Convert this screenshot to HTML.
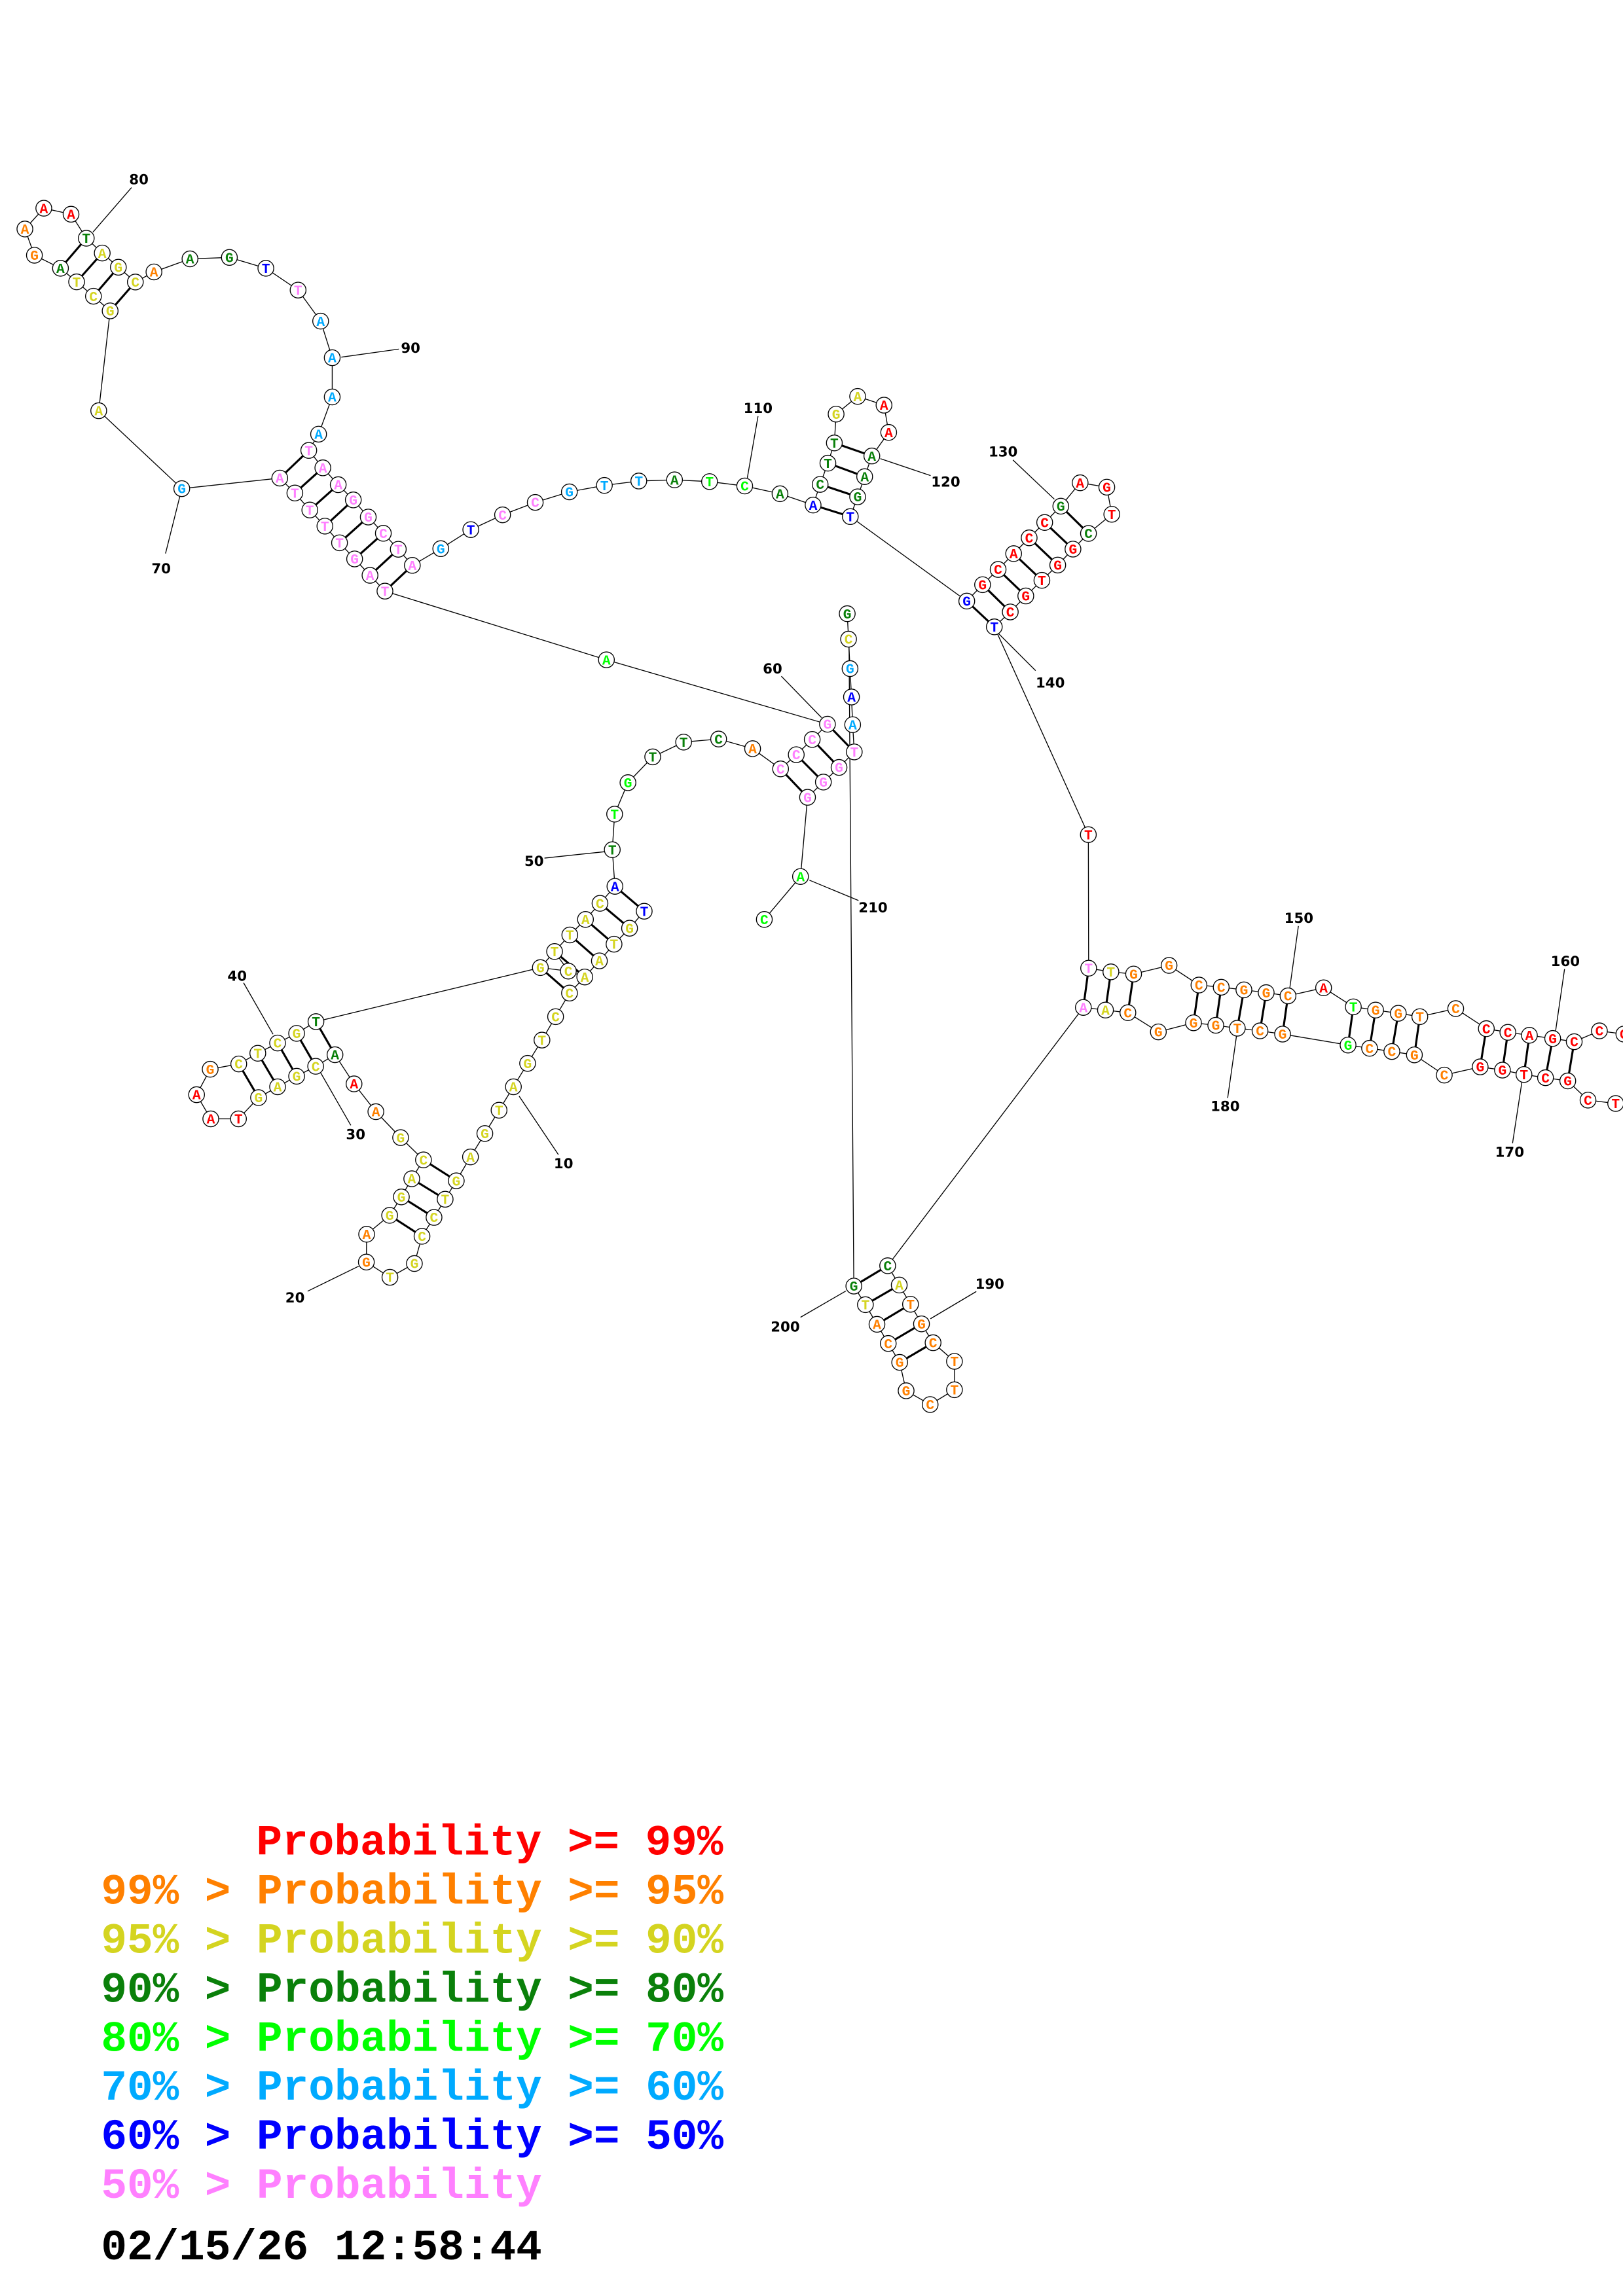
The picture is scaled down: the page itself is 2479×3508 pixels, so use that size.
<!DOCTYPE html>
<html><head><meta charset="utf-8">
<style>
html,body{margin:0;padding:0;background:#fff;}
svg{display:block;}
circle{fill:#fff;stroke:#000;stroke-width:.6;}
.bb{fill:none;stroke:#000;stroke-width:.6;}
.pr{stroke:#000;stroke-width:1.4;}
.ld{stroke:#000;stroke-width:.6;}
text.n{font-family:"Liberation Mono",monospace;font-weight:bold;font-size:9.5px;text-anchor:middle;}
text.lb{font-family:"DejaVu Sans","Liberation Sans",sans-serif;font-weight:bold;font-size:9.5px;text-anchor:middle;fill:#000;}
text.lg{font-family:"Liberation Mono",monospace;font-weight:bold;font-size:29.5px;white-space:pre;}
.R{fill:#ff0000}.O{fill:#ff8000}.Y{fill:#d4d420}.D{fill:#0a800a}.L{fill:#00ff00}.C{fill:#00aaff}.B{fill:#0000ff}.P{fill:#ff80ff}.K{fill:#000}
</style></head><body>
<svg width="2479" height="3508" viewBox="0 0 1108 1568" preserveAspectRatio="none" xmlns="http://www.w3.org/2000/svg">
<rect width="1108" height="1568" fill="#fff"/>
<polyline class="bb" points="124.1,333.7 67.4,280.5 75.2,212.3 63.8,202.3 52.3,192.5 41.3,183.2 23.5,174.3 17.0,156.4 29.9,142.2 48.5,146.3 58.9,162.7 69.8,172.8 80.8,182.5 92.4,192.6 105.1,185.7 129.7,176.8 156.6,175.8 181.5,183.2 203.5,198.1 218.9,219.3 226.8,244.3 226.8,271.1 217.5,296.5 210.8,307.6 220.4,319.5 230.9,331.0 241.2,341.4 251.4,353.1 261.7,364.2 271.9,375.1 281.5,386.1 300.9,374.7 321.4,361.7 343.1,351.6 365.4,343.1 388.7,335.9 412.6,331.5 436.1,328.5 460.5,327.7 484.4,328.9 508.4,331.9 532.5,337.2 555.1,344.9 559.9,330.8 565.2,316.3 569.6,302.5 570.8,282.8 585.5,270.7 603.5,276.7 606.7,295.3 595.2,311.4 590.3,325.5 585.5,339.3 580.5,352.8 660.0,410.5 670.8,399.3 681.4,388.9 692.0,378.1 702.6,367.3 713.2,356.8 724.2,345.7 737.4,329.7 755.6,332.7 759.0,351.2 743.1,364.3 732.5,375.0 722.1,385.9 711.3,396.3 700.3,407.0 689.7,417.9 678.8,428.1 743,570 743.2,661.2 758.4,663.7 773.9,665.2 798.1,659.3 818.5,672.7 833.7,674.2 849.2,676.0 864.4,677.9 879.3,680.1 903.6,674.6 923.9,687.6 939.1,689.8 954.6,692.0 969.3,694.3 993.8,688.8 1014.7,702.5 1029.4,705.0 1044.1,707.0 1060.0,709.2 1074.7,711.4 1091.9,704.0 1108.6,706.2 1125,710"/>
<polyline class="bb" points="1125,756 1103.0,753.6 1084.1,751.3 1070.3,738.2 1055.1,736.0 1040.4,733.8 1025.7,730.8 1010.5,728.6 986.0,734.2 965.6,720.4 950.2,718.1 935.0,715.9 920.3,713.7 875.6,706.2 860.2,704.0 844.7,702.2 830.0,700.2 814.8,698.5 790.8,704.7 770.0,691.6 754.7,689.8 739.6,688.0 606.0,864.4 613.9,877.6 621.6,890.7 629.1,904.1 637.0,917.0 651.6,929.7 651.6,949.1 635.0,959.2 618.6,949.8 614.2,930.4 606.4,917.5 598.7,904.4 590.8,891.0 582.9,878.3 579.6,436.5"/>
<polyline class="bb" points="578.4,419.1 579.3,436.5 580.3,456.6 581.3,476.0 582.1,494.9 583.2,513.5 572.8,524.1 562.1,534.1 551.3,544.5 546.5,598.6 521.8,627.9"/>
<polyline class="bb" points="124.1,333.7 191.0,326.5 201.3,336.7 211.5,348.3 221.8,359.3 231.8,370.7 242.1,381.7 252.6,392.9 262.8,403.7 414.0,450.6 564.9,494.6 554.5,505.0 543.6,515.4 532.9,525.1 513.8,511.3 490.6,504.7 466.7,506.8 445.6,516.9 428.7,534.5 419.6,556.0 418.0,580.3 419.8,605.3 409.6,616.9 399.7,627.9 389.0,638.5 378.6,649.8 368.9,660.8 215.7,697.7 202.5,705.7 189.5,712.3 176.0,719.3 163.0,726.6 143.5,730.2 134.2,747.6 143.9,764.1 162.8,764.1 176.5,749.6 189.5,742.2 202.5,735.0 215.5,728.2 228.7,720.3 241.7,740.2 256.6,759.2 273.5,776.9 289.1,792.1 281.1,805.0 274.0,817.4 266.0,830.0 250.3,842.9 250.1,861.9 266.2,872.3 282.9,862.9 288.1,844.3 296.3,831.4 303.9,819.0 311.5,806.4 321.2,790.1 331.0,774.1 340.7,758.2 350.5,742.2 360.2,726.2 370.0,710.3 379.3,694.3 388.8,678.2 399.2,667.2 409.2,656.2 419.2,644.8 429.8,633.9 439.8,622.3 419.8,605.3"/>
<polyline class="bb" points="368.9,660.8 388.0,663.2 399.2,667.2"/>
<line class="bb" x1="378.6" y1="649.8" x2="388.0" y2="663.2"/>
<g class="pr">
<line x1="58.9" y1="162.7" x2="41.3" y2="183.2"/><line x1="69.8" y1="172.8" x2="52.3" y2="192.5"/><line x1="80.8" y1="182.5" x2="63.8" y2="202.3"/><line x1="92.4" y1="192.6" x2="75.2" y2="212.3"/>
<line x1="210.8" y1="307.6" x2="191.0" y2="326.5"/><line x1="220.4" y1="319.5" x2="201.3" y2="336.7"/><line x1="230.9" y1="331.0" x2="211.5" y2="348.3"/><line x1="241.2" y1="341.4" x2="221.8" y2="359.3"/><line x1="251.4" y1="353.1" x2="231.8" y2="370.7"/><line x1="261.7" y1="364.2" x2="242.1" y2="381.7"/><line x1="271.9" y1="375.1" x2="252.6" y2="392.9"/><line x1="281.5" y1="386.1" x2="262.8" y2="403.7"/>
<line x1="555.1" y1="344.9" x2="580.5" y2="352.8"/><line x1="559.9" y1="330.8" x2="585.5" y2="339.3"/><line x1="565.2" y1="316.3" x2="590.3" y2="325.5"/><line x1="569.6" y1="302.5" x2="595.2" y2="311.4"/>
<line x1="660.0" y1="410.5" x2="678.8" y2="428.1"/><line x1="670.8" y1="399.3" x2="689.7" y2="417.9"/><line x1="681.4" y1="388.9" x2="700.3" y2="407.0"/><line x1="692.0" y1="378.1" x2="711.3" y2="396.3"/><line x1="702.6" y1="367.3" x2="722.1" y2="385.9"/><line x1="713.2" y1="356.8" x2="732.5" y2="375.0"/><line x1="724.2" y1="345.7" x2="743.1" y2="364.3"/>
<line x1="743.2" y1="661.2" x2="739.6" y2="688.0"/><line x1="758.4" y1="663.7" x2="754.7" y2="689.8"/><line x1="773.9" y1="665.2" x2="770.0" y2="691.6"/><line x1="818.5" y1="672.7" x2="814.8" y2="698.5"/><line x1="833.7" y1="674.2" x2="830.0" y2="700.2"/><line x1="849.2" y1="676.0" x2="844.7" y2="702.2"/><line x1="864.4" y1="677.9" x2="860.2" y2="704.0"/><line x1="879.3" y1="680.1" x2="875.6" y2="706.2"/>
<line x1="923.9" y1="687.6" x2="920.3" y2="713.7"/><line x1="939.1" y1="689.8" x2="935.0" y2="715.9"/><line x1="954.6" y1="692.0" x2="950.2" y2="718.1"/><line x1="969.3" y1="694.3" x2="965.6" y2="720.4"/>
<line x1="1014.7" y1="702.5" x2="1010.5" y2="728.6"/><line x1="1029.4" y1="705.0" x2="1025.7" y2="730.8"/><line x1="1044.1" y1="707.0" x2="1040.4" y2="733.8"/><line x1="1060.0" y1="709.2" x2="1055.1" y2="736.0"/><line x1="1074.7" y1="711.4" x2="1070.3" y2="738.2"/>
<line x1="606.0" y1="864.4" x2="582.9" y2="878.3"/><line x1="613.9" y1="877.6" x2="590.8" y2="891.0"/><line x1="621.6" y1="890.7" x2="598.7" y2="904.4"/><line x1="629.1" y1="904.1" x2="606.4" y2="917.5"/><line x1="637.0" y1="917.0" x2="614.2" y2="930.4"/>
<line x1="564.9" y1="494.6" x2="583.2" y2="513.5"/><line x1="554.5" y1="505.0" x2="572.8" y2="524.1"/><line x1="543.6" y1="515.4" x2="562.1" y2="534.1"/><line x1="532.9" y1="525.1" x2="551.3" y2="544.5"/>
<line x1="419.8" y1="605.3" x2="439.8" y2="622.3"/><line x1="409.6" y1="616.9" x2="429.8" y2="633.9"/><line x1="399.7" y1="627.9" x2="419.2" y2="644.8"/><line x1="389.0" y1="638.5" x2="409.2" y2="656.2"/><line x1="378.6" y1="649.8" x2="399.2" y2="667.2"/><line x1="368.9" y1="660.8" x2="388.8" y2="678.2"/>
<line x1="215.7" y1="697.7" x2="228.7" y2="720.3"/><line x1="202.5" y1="705.7" x2="215.5" y2="728.2"/><line x1="189.5" y1="712.3" x2="202.5" y2="735.0"/><line x1="176.0" y1="719.3" x2="189.5" y2="742.2"/><line x1="163.0" y1="726.6" x2="176.5" y2="749.6"/>
<line x1="289.1" y1="792.1" x2="311.5" y2="806.4"/><line x1="281.1" y1="805.0" x2="303.9" y2="819.0"/><line x1="274.0" y1="817.4" x2="296.3" y2="831.4"/><line x1="266.0" y1="830.0" x2="288.1" y2="844.3"/>
</g>
<g class="ld">
<line x1="89.8" y1="128.1" x2="63.4" y2="158.6"/><line x1="272.3" y1="238.4" x2="233.0" y2="243.9"/><line x1="124.1" y1="333.7" x2="113" y2="378"/>
<line x1="517.5" y1="284.2" x2="510.2" y2="326.3"/><line x1="601.0" y1="313.2" x2="635.3" y2="324.8"/><line x1="691.5" y1="314.1" x2="719.8" y2="340.9"/><line x1="681" y1="432" x2="707" y2="458"/>
<line x1="533.4" y1="461.8" x2="560.9" y2="490.1"/><line x1="552.6" y1="601.1" x2="586.1" y2="615.0"/><line x1="371.7" y1="586.0" x2="413.3" y2="581.6"/>
<line x1="166.3" y1="671.2" x2="186.4" y2="706.3"/><line x1="218.9" y1="732.6" x2="239.5" y2="768.5"/><line x1="354.4" y1="748.6" x2="381.2" y2="788.5"/><line x1="210.0" y1="881.8" x2="244.9" y2="864.7"/>
<line x1="886.4" y1="632.4" x2="880.5" y2="674.9"/><line x1="1068.1" y1="661.8" x2="1062.0" y2="704.0"/><line x1="838.1" y1="749.9" x2="844.2" y2="707.0"/><line x1="1032.6" y1="780.7" x2="1039.2" y2="737.5"/>
<line x1="666.5" y1="882.0" x2="635.2" y2="900.6"/><line x1="546.5" y1="899.6" x2="577.4" y2="881.7"/>
</g>
<g>
<text class="lb" x="94.8" y="125.8">80</text><text class="lb" x="280.3" y="241">90</text><text class="lb" x="110" y="391.5">70</text>
<text class="lb" x="517.5" y="282">110</text><text class="lb" x="645.6" y="332.4">120</text><text class="lb" x="684.8" y="311.8">130</text><text class="lb" x="717" y="469.5">140</text>
<text class="lb" x="527.4" y="460">60</text><text class="lb" x="596" y="623.2">210</text><text class="lb" x="364.6" y="591.4">50</text>
<text class="lb" x="161.9" y="669.8">40</text><text class="lb" x="242.8" y="777.9">30</text><text class="lb" x="384.7" y="797.9">10</text><text class="lb" x="201.4" y="889.6">20</text>
<text class="lb" x="886.7" y="630.3">150</text><text class="lb" x="1068.6" y="659.7">160</text><text class="lb" x="836.4" y="758.8">180</text><text class="lb" x="1030.6" y="790.1">170</text>
<text class="lb" x="675.7" y="880.2">190</text><text class="lb" x="536.1" y="909.3">200</text>
</g>
<g id="nodes">
<circle cx="29.9" cy="142.2" r="5.4"/><text class="n R" x="29.9" y="145.4">A</text>
<circle cx="48.5" cy="146.3" r="5.4"/><text class="n R" x="48.5" y="149.5">A</text>
<circle cx="17.0" cy="156.4" r="5.4"/><text class="n O" x="17.0" y="159.6">A</text>
<circle cx="58.9" cy="162.7" r="5.4"/><text class="n D" x="58.9" y="165.9">T</text>
<circle cx="23.5" cy="174.3" r="5.4"/><text class="n O" x="23.5" y="177.5">G</text>
<circle cx="69.8" cy="172.8" r="5.4"/><text class="n Y" x="69.8" y="176.0">A</text>
<circle cx="41.3" cy="183.2" r="5.4"/><text class="n D" x="41.3" y="186.4">A</text>
<circle cx="80.8" cy="182.5" r="5.4"/><text class="n Y" x="80.8" y="185.7">G</text>
<circle cx="52.3" cy="192.5" r="5.4"/><text class="n Y" x="52.3" y="195.7">T</text>
<circle cx="92.4" cy="192.6" r="5.4"/><text class="n Y" x="92.4" y="195.8">C</text>
<circle cx="63.8" cy="202.3" r="5.4"/><text class="n Y" x="63.8" y="205.5">C</text>
<circle cx="75.2" cy="212.3" r="5.4"/><text class="n Y" x="75.2" y="215.5">G</text>
<circle cx="105.1" cy="185.7" r="5.4"/><text class="n O" x="105.1" y="188.9">A</text>
<circle cx="129.7" cy="176.8" r="5.4"/><text class="n D" x="129.7" y="180.0">A</text>
<circle cx="156.6" cy="175.8" r="5.4"/><text class="n D" x="156.6" y="179.0">G</text>
<circle cx="181.5" cy="183.2" r="5.4"/><text class="n B" x="181.5" y="186.4">T</text>
<circle cx="203.5" cy="198.1" r="5.4"/><text class="n P" x="203.5" y="201.3">T</text>
<circle cx="218.9" cy="219.3" r="5.4"/><text class="n C" x="218.9" y="222.5">A</text>
<circle cx="226.8" cy="244.3" r="5.4"/><text class="n C" x="226.8" y="247.5">A</text>
<circle cx="226.8" cy="271.1" r="5.4"/><text class="n C" x="226.8" y="274.3">A</text>
<circle cx="217.5" cy="296.5" r="5.4"/><text class="n C" x="217.5" y="299.7">A</text>
<circle cx="67.4" cy="280.5" r="5.4"/><text class="n Y" x="67.4" y="283.7">A</text>
<circle cx="124.1" cy="333.7" r="5.4"/><text class="n C" x="124.1" y="336.9">G</text>
<circle cx="210.8" cy="307.6" r="5.4"/><text class="n P" x="210.8" y="310.8">T</text>
<circle cx="220.4" cy="319.5" r="5.4"/><text class="n P" x="220.4" y="322.7">A</text>
<circle cx="230.9" cy="331.0" r="5.4"/><text class="n P" x="230.9" y="334.2">A</text>
<circle cx="241.2" cy="341.4" r="5.4"/><text class="n P" x="241.2" y="344.6">G</text>
<circle cx="251.4" cy="353.1" r="5.4"/><text class="n P" x="251.4" y="356.3">G</text>
<circle cx="261.7" cy="364.2" r="5.4"/><text class="n P" x="261.7" y="367.4">C</text>
<circle cx="271.9" cy="375.1" r="5.4"/><text class="n P" x="271.9" y="378.3">T</text>
<circle cx="281.5" cy="386.1" r="5.4"/><text class="n P" x="281.5" y="389.3">A</text>
<circle cx="191.0" cy="326.5" r="5.4"/><text class="n P" x="191.0" y="329.7">A</text>
<circle cx="201.3" cy="336.7" r="5.4"/><text class="n P" x="201.3" y="339.9">T</text>
<circle cx="211.5" cy="348.3" r="5.4"/><text class="n P" x="211.5" y="351.5">T</text>
<circle cx="221.8" cy="359.3" r="5.4"/><text class="n P" x="221.8" y="362.5">T</text>
<circle cx="231.8" cy="370.7" r="5.4"/><text class="n P" x="231.8" y="373.9">T</text>
<circle cx="242.1" cy="381.7" r="5.4"/><text class="n P" x="242.1" y="384.9">G</text>
<circle cx="252.6" cy="392.9" r="5.4"/><text class="n P" x="252.6" y="396.1">A</text>
<circle cx="262.8" cy="403.7" r="5.4"/><text class="n P" x="262.8" y="406.9">T</text>
<circle cx="300.9" cy="374.7" r="5.4"/><text class="n C" x="300.9" y="377.9">G</text>
<circle cx="321.4" cy="361.7" r="5.4"/><text class="n B" x="321.4" y="364.9">T</text>
<circle cx="343.1" cy="351.6" r="5.4"/><text class="n P" x="343.1" y="354.8">C</text>
<circle cx="365.4" cy="343.1" r="5.4"/><text class="n P" x="365.4" y="346.3">C</text>
<circle cx="388.7" cy="335.9" r="5.4"/><text class="n C" x="388.7" y="339.1">G</text>
<circle cx="412.6" cy="331.5" r="5.4"/><text class="n C" x="412.6" y="334.7">T</text>
<circle cx="436.1" cy="328.5" r="5.4"/><text class="n C" x="436.1" y="331.7">T</text>
<circle cx="460.5" cy="327.7" r="5.4"/><text class="n D" x="460.5" y="330.9">A</text>
<circle cx="484.4" cy="328.9" r="5.4"/><text class="n L" x="484.4" y="332.1">T</text>
<circle cx="508.4" cy="331.9" r="5.4"/><text class="n L" x="508.4" y="335.1">C</text>
<circle cx="532.5" cy="337.2" r="5.4"/><text class="n D" x="532.5" y="340.4">A</text>
<circle cx="555.1" cy="344.9" r="5.4"/><text class="n B" x="555.1" y="348.1">A</text>
<circle cx="559.9" cy="330.8" r="5.4"/><text class="n D" x="559.9" y="334.0">C</text>
<circle cx="565.2" cy="316.3" r="5.4"/><text class="n D" x="565.2" y="319.5">T</text>
<circle cx="569.6" cy="302.5" r="5.4"/><text class="n D" x="569.6" y="305.7">T</text>
<circle cx="570.8" cy="282.8" r="5.4"/><text class="n Y" x="570.8" y="286.0">G</text>
<circle cx="585.5" cy="270.7" r="5.4"/><text class="n Y" x="585.5" y="273.9">A</text>
<circle cx="603.5" cy="276.7" r="5.4"/><text class="n R" x="603.5" y="279.9">A</text>
<circle cx="606.7" cy="295.3" r="5.4"/><text class="n R" x="606.7" y="298.5">A</text>
<circle cx="595.2" cy="311.4" r="5.4"/><text class="n D" x="595.2" y="314.6">A</text>
<circle cx="590.3" cy="325.5" r="5.4"/><text class="n D" x="590.3" y="328.7">A</text>
<circle cx="585.5" cy="339.3" r="5.4"/><text class="n D" x="585.5" y="342.5">G</text>
<circle cx="580.5" cy="352.8" r="5.4"/><text class="n B" x="580.5" y="356.0">T</text>
<circle cx="660.0" cy="410.5" r="5.4"/><text class="n B" x="660.0" y="413.7">G</text>
<circle cx="670.8" cy="399.3" r="5.4"/><text class="n R" x="670.8" y="402.5">G</text>
<circle cx="681.4" cy="388.9" r="5.4"/><text class="n R" x="681.4" y="392.1">C</text>
<circle cx="692.0" cy="378.1" r="5.4"/><text class="n R" x="692.0" y="381.3">A</text>
<circle cx="702.6" cy="367.3" r="5.4"/><text class="n R" x="702.6" y="370.5">C</text>
<circle cx="713.2" cy="356.8" r="5.4"/><text class="n R" x="713.2" y="360.0">C</text>
<circle cx="724.2" cy="345.7" r="5.4"/><text class="n D" x="724.2" y="348.9">G</text>
<circle cx="737.4" cy="329.7" r="5.4"/><text class="n R" x="737.4" y="332.9">A</text>
<circle cx="755.6" cy="332.7" r="5.4"/><text class="n R" x="755.6" y="335.9">G</text>
<circle cx="759.0" cy="351.2" r="5.4"/><text class="n R" x="759.0" y="354.4">T</text>
<circle cx="743.1" cy="364.3" r="5.4"/><text class="n D" x="743.1" y="367.5">C</text>
<circle cx="732.5" cy="375.0" r="5.4"/><text class="n R" x="732.5" y="378.2">G</text>
<circle cx="722.1" cy="385.9" r="5.4"/><text class="n R" x="722.1" y="389.1">G</text>
<circle cx="711.3" cy="396.3" r="5.4"/><text class="n R" x="711.3" y="399.5">T</text>
<circle cx="700.3" cy="407.0" r="5.4"/><text class="n R" x="700.3" y="410.2">G</text>
<circle cx="689.7" cy="417.9" r="5.4"/><text class="n R" x="689.7" y="421.1">C</text>
<circle cx="678.8" cy="428.1" r="5.4"/><text class="n B" x="678.8" y="431.3">T</text>
<circle cx="743" cy="570" r="5.4"/><text class="n R" x="743" y="573.2">T</text>
<circle cx="743.2" cy="661.2" r="5.4"/><text class="n P" x="743.2" y="664.4">T</text>
<circle cx="758.4" cy="663.7" r="5.4"/><text class="n Y" x="758.4" y="666.9">T</text>
<circle cx="773.9" cy="665.2" r="5.4"/><text class="n O" x="773.9" y="668.4">G</text>
<circle cx="798.1" cy="659.3" r="5.4"/><text class="n O" x="798.1" y="662.5">G</text>
<circle cx="818.5" cy="672.7" r="5.4"/><text class="n O" x="818.5" y="675.9">C</text>
<circle cx="833.7" cy="674.2" r="5.4"/><text class="n O" x="833.7" y="677.4">C</text>
<circle cx="849.2" cy="676.0" r="5.4"/><text class="n O" x="849.2" y="679.2">G</text>
<circle cx="864.4" cy="677.9" r="5.4"/><text class="n O" x="864.4" y="681.1">G</text>
<circle cx="879.3" cy="680.1" r="5.4"/><text class="n O" x="879.3" y="683.3">C</text>
<circle cx="903.6" cy="674.6" r="5.4"/><text class="n R" x="903.6" y="677.8">A</text>
<circle cx="923.9" cy="687.6" r="5.4"/><text class="n L" x="923.9" y="690.8">T</text>
<circle cx="939.1" cy="689.8" r="5.4"/><text class="n O" x="939.1" y="693.0">G</text>
<circle cx="954.6" cy="692.0" r="5.4"/><text class="n O" x="954.6" y="695.2">G</text>
<circle cx="969.3" cy="694.3" r="5.4"/><text class="n O" x="969.3" y="697.5">T</text>
<circle cx="993.8" cy="688.8" r="5.4"/><text class="n O" x="993.8" y="692.0">C</text>
<circle cx="1014.7" cy="702.5" r="5.4"/><text class="n R" x="1014.7" y="705.7">C</text>
<circle cx="1029.4" cy="705.0" r="5.4"/><text class="n R" x="1029.4" y="708.2">C</text>
<circle cx="1044.1" cy="707.0" r="5.4"/><text class="n R" x="1044.1" y="710.2">A</text>
<circle cx="1060.0" cy="709.2" r="5.4"/><text class="n R" x="1060.0" y="712.4">G</text>
<circle cx="1074.7" cy="711.4" r="5.4"/><text class="n R" x="1074.7" y="714.6">C</text>
<circle cx="1091.9" cy="704.0" r="5.4"/><text class="n R" x="1091.9" y="707.2">C</text>
<circle cx="1108.6" cy="706.2" r="5.4"/><text class="n R" x="1108.6" y="709.4">C</text>
<circle cx="739.6" cy="688.0" r="5.4"/><text class="n P" x="739.6" y="691.2">A</text>
<circle cx="754.7" cy="689.8" r="5.4"/><text class="n Y" x="754.7" y="693.0">A</text>
<circle cx="770.0" cy="691.6" r="5.4"/><text class="n O" x="770.0" y="694.8">C</text>
<circle cx="790.8" cy="704.7" r="5.4"/><text class="n O" x="790.8" y="707.9">G</text>
<circle cx="814.8" cy="698.5" r="5.4"/><text class="n O" x="814.8" y="701.7">G</text>
<circle cx="830.0" cy="700.2" r="5.4"/><text class="n O" x="830.0" y="703.4">G</text>
<circle cx="844.7" cy="702.2" r="5.4"/><text class="n O" x="844.7" y="705.4">T</text>
<circle cx="860.2" cy="704.0" r="5.4"/><text class="n O" x="860.2" y="707.2">C</text>
<circle cx="875.6" cy="706.2" r="5.4"/><text class="n O" x="875.6" y="709.4">G</text>
<circle cx="920.3" cy="713.7" r="5.4"/><text class="n L" x="920.3" y="716.9">G</text>
<circle cx="935.0" cy="715.9" r="5.4"/><text class="n O" x="935.0" y="719.1">C</text>
<circle cx="950.2" cy="718.1" r="5.4"/><text class="n O" x="950.2" y="721.3">C</text>
<circle cx="965.6" cy="720.4" r="5.4"/><text class="n O" x="965.6" y="723.6">G</text>
<circle cx="986.0" cy="734.2" r="5.4"/><text class="n O" x="986.0" y="737.4">C</text>
<circle cx="1010.5" cy="728.6" r="5.4"/><text class="n R" x="1010.5" y="731.8">G</text>
<circle cx="1025.7" cy="730.8" r="5.4"/><text class="n R" x="1025.7" y="734.0">G</text>
<circle cx="1040.4" cy="733.8" r="5.4"/><text class="n R" x="1040.4" y="737.0">T</text>
<circle cx="1055.1" cy="736.0" r="5.4"/><text class="n R" x="1055.1" y="739.2">C</text>
<circle cx="1070.3" cy="738.2" r="5.4"/><text class="n R" x="1070.3" y="741.4">G</text>
<circle cx="1084.1" cy="751.3" r="5.4"/><text class="n R" x="1084.1" y="754.5">C</text>
<circle cx="1103.0" cy="753.6" r="5.4"/><text class="n R" x="1103.0" y="756.8">T</text>
<circle cx="606.0" cy="864.4" r="5.4"/><text class="n D" x="606.0" y="867.6">C</text>
<circle cx="582.9" cy="878.3" r="5.4"/><text class="n D" x="582.9" y="881.5">G</text>
<circle cx="613.9" cy="877.6" r="5.4"/><text class="n Y" x="613.9" y="880.8">A</text>
<circle cx="590.8" cy="891.0" r="5.4"/><text class="n Y" x="590.8" y="894.2">T</text>
<circle cx="621.6" cy="890.7" r="5.4"/><text class="n O" x="621.6" y="893.9">T</text>
<circle cx="598.7" cy="904.4" r="5.4"/><text class="n O" x="598.7" y="907.6">A</text>
<circle cx="629.1" cy="904.1" r="5.4"/><text class="n O" x="629.1" y="907.3">G</text>
<circle cx="606.4" cy="917.5" r="5.4"/><text class="n O" x="606.4" y="920.7">C</text>
<circle cx="637.0" cy="917.0" r="5.4"/><text class="n O" x="637.0" y="920.2">C</text>
<circle cx="614.2" cy="930.4" r="5.4"/><text class="n O" x="614.2" y="933.6">G</text>
<circle cx="651.6" cy="929.7" r="5.4"/><text class="n O" x="651.6" y="932.9">T</text>
<circle cx="651.6" cy="949.1" r="5.4"/><text class="n O" x="651.6" y="952.3">T</text>
<circle cx="635.0" cy="959.2" r="5.4"/><text class="n O" x="635.0" y="962.4">C</text>
<circle cx="618.6" cy="949.8" r="5.4"/><text class="n O" x="618.6" y="953.0">G</text>
<circle cx="578.4" cy="419.1" r="5.4"/><text class="n D" x="578.4" y="422.3">G</text>
<circle cx="579.3" cy="436.5" r="5.4"/><text class="n Y" x="579.3" y="439.7">C</text>
<circle cx="580.3" cy="456.6" r="5.4"/><text class="n C" x="580.3" y="459.8">G</text>
<circle cx="581.3" cy="476.0" r="5.4"/><text class="n B" x="581.3" y="479.2">A</text>
<circle cx="582.1" cy="494.9" r="5.4"/><text class="n C" x="582.1" y="498.1">A</text>
<circle cx="583.2" cy="513.5" r="5.4"/><text class="n P" x="583.2" y="516.7">T</text>
<circle cx="564.9" cy="494.6" r="5.4"/><text class="n P" x="564.9" y="497.8">G</text>
<circle cx="554.5" cy="505.0" r="5.4"/><text class="n P" x="554.5" y="508.2">C</text>
<circle cx="543.6" cy="515.4" r="5.4"/><text class="n P" x="543.6" y="518.6">C</text>
<circle cx="532.9" cy="525.1" r="5.4"/><text class="n P" x="532.9" y="528.3">C</text>
<circle cx="551.3" cy="544.5" r="5.4"/><text class="n P" x="551.3" y="547.7">G</text>
<circle cx="562.1" cy="534.1" r="5.4"/><text class="n P" x="562.1" y="537.3">G</text>
<circle cx="572.8" cy="524.1" r="5.4"/><text class="n P" x="572.8" y="527.3">G</text>
<circle cx="546.5" cy="598.6" r="5.4"/><text class="n L" x="546.5" y="601.8">A</text>
<circle cx="521.8" cy="627.9" r="5.4"/><text class="n L" x="521.8" y="631.1">C</text>
<circle cx="414.0" cy="450.6" r="5.4"/><text class="n L" x="414.0" y="453.8">A</text>
<circle cx="513.8" cy="511.3" r="5.4"/><text class="n O" x="513.8" y="514.5">A</text>
<circle cx="490.6" cy="504.7" r="5.4"/><text class="n D" x="490.6" y="507.9">C</text>
<circle cx="466.7" cy="506.8" r="5.4"/><text class="n D" x="466.7" y="510.0">T</text>
<circle cx="445.6" cy="516.9" r="5.4"/><text class="n D" x="445.6" y="520.1">T</text>
<circle cx="428.7" cy="534.5" r="5.4"/><text class="n L" x="428.7" y="537.7">G</text>
<circle cx="419.6" cy="556.0" r="5.4"/><text class="n L" x="419.6" y="559.2">T</text>
<circle cx="418.0" cy="580.3" r="5.4"/><text class="n D" x="418.0" y="583.5">T</text>
<circle cx="419.8" cy="605.3" r="5.4"/><text class="n B" x="419.8" y="608.5">A</text>
<circle cx="439.8" cy="622.3" r="5.4"/><text class="n B" x="439.8" y="625.5">T</text>
<circle cx="409.6" cy="616.9" r="5.4"/><text class="n Y" x="409.6" y="620.1">C</text>
<circle cx="429.8" cy="633.9" r="5.4"/><text class="n Y" x="429.8" y="637.1">G</text>
<circle cx="399.7" cy="627.9" r="5.4"/><text class="n Y" x="399.7" y="631.1">A</text>
<circle cx="419.2" cy="644.8" r="5.4"/><text class="n Y" x="419.2" y="648.0">T</text>
<circle cx="389.0" cy="638.5" r="5.4"/><text class="n Y" x="389.0" y="641.7">T</text>
<circle cx="409.2" cy="656.2" r="5.4"/><text class="n Y" x="409.2" y="659.4">A</text>
<circle cx="378.6" cy="649.8" r="5.4"/><text class="n Y" x="378.6" y="653.0">T</text>
<circle cx="388.0" cy="663.2" r="5.4"/><text class="n Y" x="388.0" y="666.4">C</text>
<circle cx="399.2" cy="667.2" r="5.4"/><text class="n Y" x="399.2" y="670.4">A</text>
<circle cx="368.9" cy="660.8" r="5.4"/><text class="n Y" x="368.9" y="664.0">G</text>
<circle cx="388.8" cy="678.2" r="5.4"/><text class="n Y" x="388.8" y="681.4">C</text>
<circle cx="379.3" cy="694.3" r="5.4"/><text class="n Y" x="379.3" y="697.5">C</text>
<circle cx="370.0" cy="710.3" r="5.4"/><text class="n Y" x="370.0" y="713.5">T</text>
<circle cx="360.2" cy="726.2" r="5.4"/><text class="n Y" x="360.2" y="729.4">G</text>
<circle cx="350.5" cy="742.2" r="5.4"/><text class="n Y" x="350.5" y="745.4">A</text>
<circle cx="340.7" cy="758.2" r="5.4"/><text class="n Y" x="340.7" y="761.4">T</text>
<circle cx="331.0" cy="774.1" r="5.4"/><text class="n Y" x="331.0" y="777.3">G</text>
<circle cx="321.2" cy="790.1" r="5.4"/><text class="n Y" x="321.2" y="793.3">A</text>
<circle cx="311.5" cy="806.4" r="5.4"/><text class="n Y" x="311.5" y="809.6">G</text>
<circle cx="303.9" cy="819.0" r="5.4"/><text class="n Y" x="303.9" y="822.2">T</text>
<circle cx="296.3" cy="831.4" r="5.4"/><text class="n Y" x="296.3" y="834.6">C</text>
<circle cx="288.1" cy="844.3" r="5.4"/><text class="n Y" x="288.1" y="847.5">C</text>
<circle cx="282.9" cy="862.9" r="5.4"/><text class="n Y" x="282.9" y="866.1">G</text>
<circle cx="266.2" cy="872.3" r="5.4"/><text class="n Y" x="266.2" y="875.5">T</text>
<circle cx="250.1" cy="861.9" r="5.4"/><text class="n O" x="250.1" y="865.1">G</text>
<circle cx="250.3" cy="842.9" r="5.4"/><text class="n O" x="250.3" y="846.1">A</text>
<circle cx="266.0" cy="830.0" r="5.4"/><text class="n Y" x="266.0" y="833.2">G</text>
<circle cx="274.0" cy="817.4" r="5.4"/><text class="n Y" x="274.0" y="820.6">G</text>
<circle cx="281.1" cy="805.0" r="5.4"/><text class="n Y" x="281.1" y="808.2">A</text>
<circle cx="289.1" cy="792.1" r="5.4"/><text class="n Y" x="289.1" y="795.3">C</text>
<circle cx="273.5" cy="776.9" r="5.4"/><text class="n Y" x="273.5" y="780.1">G</text>
<circle cx="256.6" cy="759.2" r="5.4"/><text class="n O" x="256.6" y="762.4">A</text>
<circle cx="241.7" cy="740.2" r="5.4"/><text class="n R" x="241.7" y="743.4">A</text>
<circle cx="228.7" cy="720.3" r="5.4"/><text class="n D" x="228.7" y="723.5">A</text>
<circle cx="215.5" cy="728.2" r="5.4"/><text class="n Y" x="215.5" y="731.4">C</text>
<circle cx="202.5" cy="735.0" r="5.4"/><text class="n Y" x="202.5" y="738.2">G</text>
<circle cx="189.5" cy="742.2" r="5.4"/><text class="n Y" x="189.5" y="745.4">A</text>
<circle cx="176.5" cy="749.6" r="5.4"/><text class="n Y" x="176.5" y="752.8">G</text>
<circle cx="162.8" cy="764.1" r="5.4"/><text class="n R" x="162.8" y="767.3">T</text>
<circle cx="143.9" cy="764.1" r="5.4"/><text class="n R" x="143.9" y="767.3">A</text>
<circle cx="134.2" cy="747.6" r="5.4"/><text class="n R" x="134.2" y="750.8">A</text>
<circle cx="143.5" cy="730.2" r="5.4"/><text class="n O" x="143.5" y="733.4">G</text>
<circle cx="163.0" cy="726.6" r="5.4"/><text class="n Y" x="163.0" y="729.8">C</text>
<circle cx="176.0" cy="719.3" r="5.4"/><text class="n Y" x="176.0" y="722.5">T</text>
<circle cx="189.5" cy="712.3" r="5.4"/><text class="n Y" x="189.5" y="715.5">C</text>
<circle cx="202.5" cy="705.7" r="5.4"/><text class="n Y" x="202.5" y="708.9">G</text>
<circle cx="215.7" cy="697.7" r="5.4"/><text class="n D" x="215.7" y="700.9">T</text>
</g>
<g>
<text class="lg R" x="175" y="1266.5">Probability &gt;= 99%</text>
<text class="lg O" x="69" y="1300">99% &gt; Probability &gt;= 95%</text>
<text class="lg Y" x="69" y="1333.5">95% &gt; Probability &gt;= 90%</text>
<text class="lg D" x="69" y="1367">90% &gt; Probability &gt;= 80%</text>
<text class="lg L" x="69" y="1400.5">80% &gt; Probability &gt;= 70%</text>
<text class="lg C" x="69" y="1434">70% &gt; Probability &gt;= 60%</text>
<text class="lg B" x="69" y="1467.5">60% &gt; Probability &gt;= 50%</text>
<text class="lg P" x="69" y="1501">50% &gt; Probability</text>
<text class="lg K" x="69" y="1543">02/15/26 12:58:44</text>
</g>
</svg>
</body></html>
